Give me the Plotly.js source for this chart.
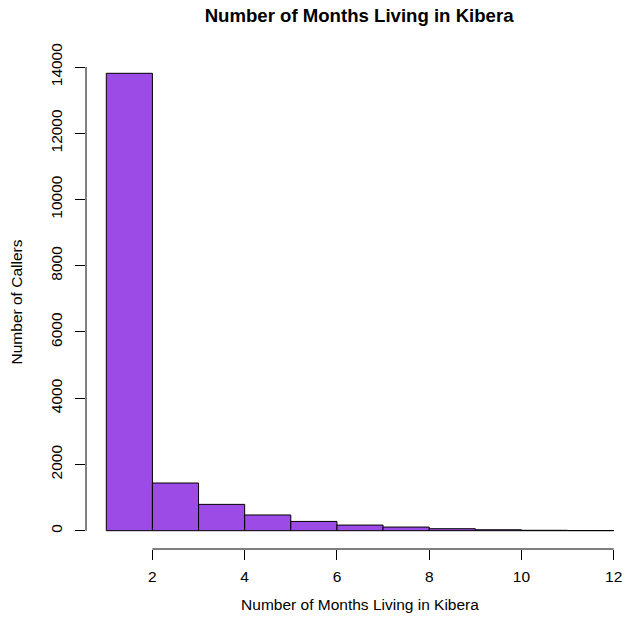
<!DOCTYPE html>
<html>
<head>
<meta charset="utf-8">
<script src="https://cdn.plot.ly/plotly-3.0.1.min.js"></script>
<style>
  html, body { margin: 0; padding: 0; background: #ffffff; }
  #chart { width: 636px; height: 627px; }
</style>
</head>
<body>
<div id="chart"></div>
<script>
// Histogram bins (months) and caller counts per bin
const binEdges = [1, 2, 3, 4, 5, 6, 7, 8, 9, 10, 11, 12];
const callerCounts = [13810, 1440, 795, 475, 280, 170, 110, 60, 28, 12, 5];
const xTicks = [2, 4, 6, 8, 10, 12];
const yTicks = [0, 2000, 4000, 6000, 8000, 10000, 12000, 14000];

const binMids = callerCounts.map((_, i) => (binEdges[i] + binEdges[i + 1]) / 2);
const binWidths = callerCounts.map((_, i) => binEdges[i + 1] - binEdges[i]);

// R-style axis limits: data range padded by 4% on each side
const xMin = binEdges[0], xMax = binEdges[binEdges.length - 1];
const xPad = (xMax - xMin) * 0.04;
const yMax = Math.max(...callerCounts);
const yPad = yMax * 0.04;

const FONT = 'Liberation Sans, Arial, Helvetica, sans-serif';

const trace = {
  type: 'bar',
  x: binMids,
  y: callerCounts,
  width: binWidths,
  marker: { color: '#9D4BE6', line: { color: '#000000', width: 1 } },
  hoverinfo: 'x+y'
};

const layout = {
  width: 636,
  height: 627,
  paper_bgcolor: '#ffffff',
  plot_bgcolor: '#ffffff',
  margin: { l: 86, r: 2, t: 55, b: 78 },
  showlegend: false,
  bargap: 0,
  font: { family: FONT, color: '#000000', size: 15.5 },
  title: {
    text: '<b>Number of Months Living in Kibera</b>',
    font: { family: FONT, size: 18.6, color: '#000000' },
    x: 0.5646, xanchor: 'center',
    y: 0.975, yanchor: 'middle'
  },
  xaxis: {
    range: [xMin - xPad, xMax + xPad],
    tickmode: 'array',
    tickvals: xTicks,
    ticktext: xTicks.map(String),
    ticks: 'outside',
    ticklen: 10,
    tickwidth: 1,
    tickcolor: '#000000',
    ticklabelstandoff: 3,
    showline: false,
    showgrid: false,
    zeroline: false,
    tickfont: { family: FONT, size: 15.5, color: '#000000' },
    title: { text: 'Number of Months Living in Kibera', font: { family: FONT, size: 15.5, color: '#000000' }, standoff: 15 }
  },
  yaxis: {
    range: [-yPad, yMax + yPad],
    tickmode: 'array',
    tickvals: yTicks,
    ticktext: yTicks.map(String),
    tickangle: -90,
    ticks: 'outside',
    ticklen: 10,
    tickwidth: 1,
    tickcolor: '#000000',
    ticklabelstandoff: 7,
    showline: false,
    showgrid: false,
    zeroline: false,
    tickfont: { family: FONT, size: 15.5, color: '#000000' },
    title: { text: 'Number of Callers', font: { family: FONT, size: 15.5, color: '#000000' }, standoff: 21 }
  },
  shapes: [
    // bottom axis line spanning the first to last tick
    { type: 'line', xref: 'x', yref: 'paper', x0: xTicks[0], x1: xTicks[xTicks.length - 1], y0: 0, y1: 0,
      line: { color: '#000000', width: 1 } },
    // left axis line spanning the first to last tick
    { type: 'line', xref: 'paper', yref: 'y', x0: 0, x1: 0, y0: yTicks[0], y1: yTicks[yTicks.length - 1],
      line: { color: '#000000', width: 1 } }
  ]
};

Plotly.newPlot('chart', [trace], layout, { staticPlot: true, displayModeBar: false });
</script>
</body>
</html>
